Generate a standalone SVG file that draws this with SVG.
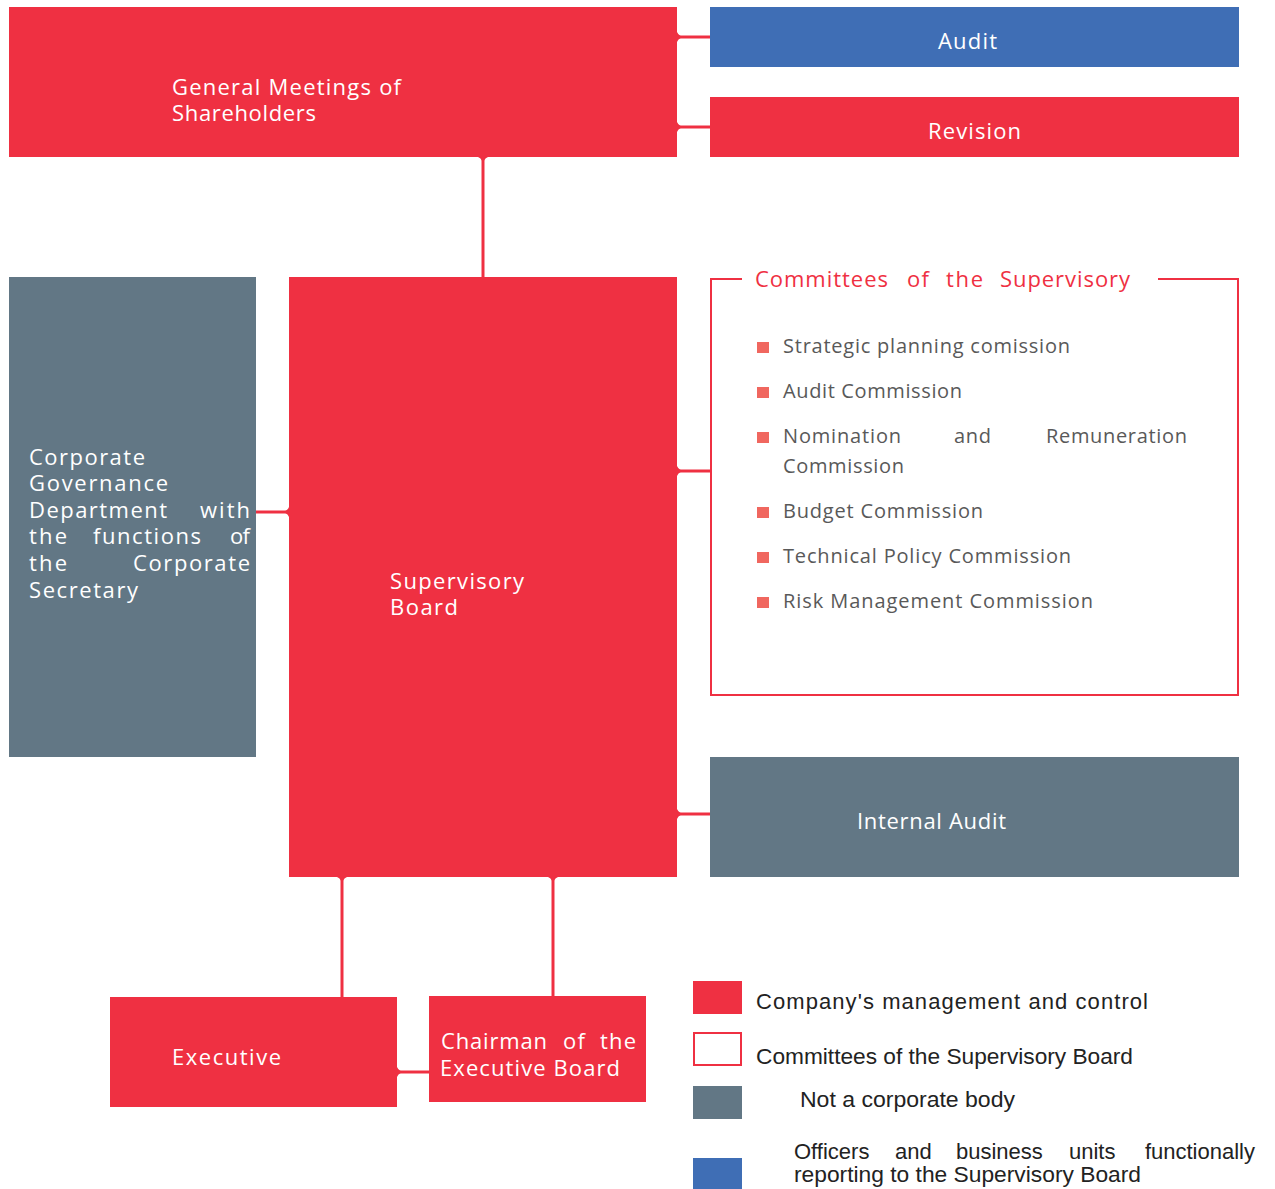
<svg xmlns="http://www.w3.org/2000/svg" width="1275" height="1189" viewBox="0 0 1275 1189">
<style>
.red{fill:#EF3042}
.grey{fill:#627785}
.blue{fill:#3F6EB5}
.t{font-family:"Open Sans","DejaVu Sans",sans-serif;font-size:22px;fill:#fff}
.ttl{font-family:"Open Sans","DejaVu Sans",sans-serif;font-size:22px;fill:#EF3042}
.li{font-family:"Open Sans","DejaVu Sans",sans-serif;font-size:20px;fill:#595959}
.bul{fill:#F0675F}
.lg{font-family:"Liberation Sans",Arial,sans-serif;font-size:22px;fill:#222}
.ln{stroke:#EF3042;stroke-width:3;fill:none}
.fl{fill:#EF3042}
</style>
<rect width="1275" height="1189" fill="#fff"/>

<g id="connectors">
  <line class="ln" x1="677" y1="37" x2="710" y2="37"/>
  <path class="fl" d="M677,32 Q679,37 686,37 Q679,37 677,42 Z"/>
  <line class="ln" x1="677" y1="127" x2="710" y2="127"/>
  <path class="fl" d="M677,122 Q679,127 686,127 Q679,127 677,132 Z"/>
  <line class="ln" x1="483" y1="157" x2="483" y2="277"/>
  <path class="fl" d="M478,157 Q483,159 483,166 Q483,159 488,157 Z"/>
  <line class="ln" x1="256" y1="512" x2="289" y2="512"/>
  <path class="fl" d="M289,507 Q287,512 280,512 Q287,512 289,517 Z"/>
  <line class="ln" x1="677" y1="471" x2="711" y2="471"/>
  <path class="fl" d="M677,466 Q679,471 686,471 Q679,471 677,476 Z"/>
  <line class="ln" x1="677" y1="814" x2="710" y2="814"/>
  <path class="fl" d="M677,809 Q679,814 686,814 Q679,814 677,819 Z"/>
  <line class="ln" x1="342" y1="877" x2="342" y2="997"/>
  <path class="fl" d="M337,877 Q342,879 342,886 Q342,879 347,877 Z"/>
  <line class="ln" x1="553" y1="877" x2="553" y2="996"/>
  <path class="fl" d="M548,877 Q553,879 553,886 Q553,879 558,877 Z"/>
  <line class="ln" x1="397" y1="1072" x2="429" y2="1072"/>
  <path class="fl" d="M397,1067 Q399,1072 406,1072 Q399,1072 397,1077 Z"/>
</g>

<g id="general-meetings">
  <rect class="red" x="9" y="7" width="668" height="150"/>
  <text class="t" x="172" y="95" textLength="229" lengthAdjust="spacing">General Meetings of</text>
  <text class="t" x="172" y="121" textLength="144" lengthAdjust="spacing">Shareholders</text>
</g>

<g id="audit">
  <rect class="blue" x="710" y="7" width="529" height="60"/>
  <text class="t" x="938" y="49" textLength="59" lengthAdjust="spacing">Audit</text>
</g>

<g id="revision">
  <rect class="red" x="710" y="97" width="529" height="60"/>
  <text class="t" x="928" y="139" textLength="93" lengthAdjust="spacing">Revision</text>
</g>

<g id="corporate-governance">
  <rect class="grey" x="9" y="277" width="247" height="480"/>
  <text class="t" x="29" y="465" textLength="116" lengthAdjust="spacing">Corporate</text>
  <text class="t" x="29" y="491" textLength="139" lengthAdjust="spacing">Governance</text>
  <text class="t" x="29" y="518" textLength="138" lengthAdjust="spacing">Department</text>
  <text class="t" x="200" y="518" textLength="50" lengthAdjust="spacing">with</text>
  <text class="t" x="29" y="544" textLength="38" lengthAdjust="spacing">the</text>
  <text class="t" x="93" y="544" textLength="108" lengthAdjust="spacing">functions</text>
  <text class="t" x="230" y="544" textLength="20" lengthAdjust="spacing">of</text>
  <text class="t" x="29" y="571" textLength="38" lengthAdjust="spacing">the</text>
  <text class="t" x="133" y="571" textLength="117" lengthAdjust="spacing">Corporate</text>
  <text class="t" x="29" y="598" textLength="109" lengthAdjust="spacing">Secretary</text>
</g>

<g id="supervisory-board">
  <rect class="red" x="289" y="277" width="388" height="600"/>
  <text class="t" x="390" y="589" textLength="134" lengthAdjust="spacing">Supervisory</text>
  <text class="t" x="390" y="615" textLength="68" lengthAdjust="spacing">Board</text>
</g>

<g id="committees">
  <path d="M742,279 H711 V695 H1238 V279 H1158" fill="none" stroke="#EF3042" stroke-width="2"/>
  <text class="ttl" x="755" y="287" textLength="133" lengthAdjust="spacing">Committees</text>
  <text class="ttl" x="907" y="287" textLength="22" lengthAdjust="spacing">of</text>
  <text class="ttl" x="946" y="287" textLength="37" lengthAdjust="spacing">the</text>
  <text class="ttl" x="1000" y="287" textLength="130" lengthAdjust="spacing">Supervisory</text>
  <rect class="bul" x="757" y="342" width="12" height="11"/>
  <text class="li" x="783" y="353" textLength="287" lengthAdjust="spacing">Strategic planning comission</text>
  <rect class="bul" x="757" y="387" width="12" height="11"/>
  <text class="li" x="783" y="398" textLength="179" lengthAdjust="spacing">Audit Commission</text>
  <rect class="bul" x="757" y="432" width="12" height="11"/>
  <text class="li" x="783" y="443" textLength="118" lengthAdjust="spacing">Nomination</text>
  <text class="li" x="954" y="443" textLength="37" lengthAdjust="spacing">and</text>
  <text class="li" x="1046" y="443" textLength="141" lengthAdjust="spacing">Remuneration</text>
  <text class="li" x="783" y="473" textLength="121" lengthAdjust="spacing">Commission</text>
  <rect class="bul" x="757" y="507" width="12" height="11"/>
  <text class="li" x="783" y="518" textLength="200" lengthAdjust="spacing">Budget Commission</text>
  <rect class="bul" x="757" y="552" width="12" height="11"/>
  <text class="li" x="783" y="563" textLength="288" lengthAdjust="spacing">Technical Policy Commission</text>
  <rect class="bul" x="757" y="597" width="12" height="11"/>
  <text class="li" x="783" y="608" textLength="310" lengthAdjust="spacing">Risk Management Commission</text>
</g>

<g id="internal-audit">
  <rect class="grey" x="710" y="757" width="529" height="120"/>
  <text class="t" x="857" y="829" textLength="149" lengthAdjust="spacing">Internal Audit</text>
</g>

<g id="executive">
  <rect class="red" x="110" y="997" width="287" height="110"/>
  <text class="t" x="172" y="1065" textLength="109" lengthAdjust="spacing">Executive</text>
</g>

<g id="chairman">
  <rect class="red" x="429" y="996" width="217" height="106"/>
  <text class="t" x="441" y="1049" textLength="106" lengthAdjust="spacing">Chairman</text>
  <text class="t" x="563" y="1049" textLength="22" lengthAdjust="spacing">of</text>
  <text class="t" x="600" y="1049" textLength="36" lengthAdjust="spacing">the</text>
  <text class="t" x="440" y="1076" textLength="180" lengthAdjust="spacing">Executive Board</text>
</g>

<g id="legend">
  <rect class="red" x="693" y="981" width="49" height="33"/>
  <text class="lg" x="756" y="1009" textLength="392" lengthAdjust="spacing">Company's management and control</text>
  <rect x="694" y="1033" width="47" height="32" fill="#fff" stroke="#EF3042" stroke-width="2"/>
  <text class="lg" x="756" y="1064" textLength="377" lengthAdjust="spacingAndGlyphs">Committees of the Supervisory Board</text>
  <rect class="grey" x="693" y="1086" width="49" height="33"/>
  <text class="lg" x="800" y="1107" textLength="215" lengthAdjust="spacingAndGlyphs">Not a corporate body</text>
  <rect class="blue" x="693" y="1158" width="49" height="31"/>
  <text class="lg" x="794" y="1159">Officers</text>
  <text class="lg" x="895" y="1159">and</text>
  <text class="lg" x="956" y="1159">business</text>
  <text class="lg" x="1069" y="1159">units</text>
  <text class="lg" x="1255" y="1159" text-anchor="end">functionally</text>
  <text class="lg" x="794" y="1182" textLength="347" lengthAdjust="spacingAndGlyphs">reporting to the Supervisory Board</text>
</g>
</svg>
